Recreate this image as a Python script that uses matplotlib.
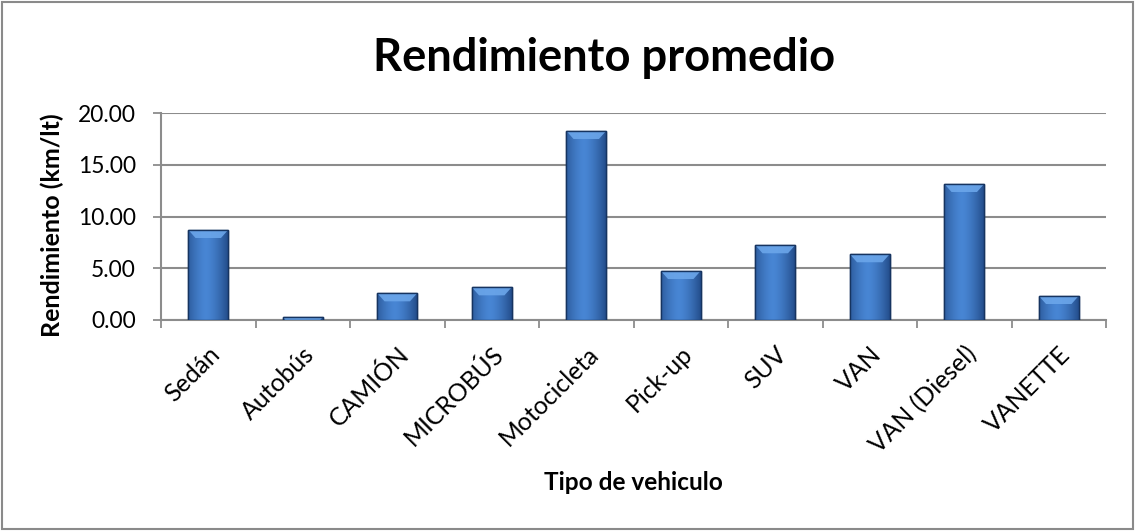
import matplotlib
matplotlib.use("Agg")
import matplotlib.pyplot as plt
import numpy as np
from matplotlib.patches import Rectangle, Polygon
from matplotlib.ticker import FixedLocator, FuncFormatter

categories = ["Sedán", "Autobús", "CAMIÓN", "MICROBÚS", "Motocicleta",
              "Pick-up", "SUV", "VAN", "VAN (Diesel)", "VANETTE"]
values = [8.71, 0.26, 2.58, 3.16, 18.29, 4.74, 7.23, 6.36, 13.16, 2.32]
yticks = [0, 5, 10, 15, 20]

title = "Rendimiento promedio"
xlabel = "Tipo de vehiculo"
ylabel = "Rendimiento (km/lt)"

plt.rcParams['font.family'] = ['Lato', 'DejaVu Sans']

W, H = 1136, 531
fig = plt.figure(figsize=(W / 100, H / 100), dpi=100)
ax = fig.add_axes([161 / W, 1 - 320 / H, (1106 - 161) / W, (320 - 113.3) / H])

x = np.arange(len(categories))
bars = ax.bar(x, values, width=0.42, color="#3B6EB5", edgecolor="#1A3A66",
              linewidth=1.0, zorder=3)

# gradient shading across each bar
grad = np.linspace(0, 1, 64)
img = np.zeros((1, 64, 3))
light = np.array([0x48, 0x86, 0xD4]) / 255
dark = np.array([0x24, 0x4E, 0x8C]) / 255
for i, t in enumerate(grad):
    d = (abs(t - 0.45) / 0.55) ** 1.5
    img[0, i] = light * (1 - d) + dark * d

ax.set_xlim(-0.5, len(categories) - 0.5)
ax.set_ylim(0, 20)
px_per_unit = (320 - 113.3) / 20.0
bev = 8 / px_per_unit
for b in bars:
    x0, w, h = b.get_x(), b.get_width(), b.get_height()
    im = ax.imshow(img, extent=(x0, x0 + w, 0, h), aspect="auto", zorder=3.5,
                   interpolation="bilinear")
    im.set_clip_path(b)
    bh = min(bev, h)
    inset = w * 0.18 * (bh / bev)
    top = Polygon([(x0, h), (x0 + w, h), (x0 + w - inset, h - bh), (x0 + inset, h - bh)],
                  closed=True, facecolor="#6BA6EA", edgecolor="none", zorder=3.6, alpha=0.9)
    ax.add_patch(top)
    ax.add_patch(Rectangle((x0, 0), w, h, fill=False, edgecolor="#163460",
                           linewidth=1.0, zorder=3.8))
ax.set_aspect("auto")

ax.yaxis.set_major_locator(FixedLocator(yticks))
ax.yaxis.set_major_formatter(FuncFormatter(lambda v, p: f"{v:.2f}"))
ax.grid(axis="y", color="#8C8C8C", linewidth=1.5, zorder=0)
ax.set_axisbelow(True)

ax.set_xticks(x)
ax.set_xticklabels(categories, rotation=45, ha="right", rotation_mode="anchor",
                   fontsize=17.8)
ax.tick_params(axis="x", length=0, pad=16)
ax.set_xticks(np.arange(-0.5, len(categories)), minor=True)
ax.tick_params(axis="x", which="minor", length=6, width=1.3, color="#8C8C8C")
ax.tick_params(axis="y", labelsize=16.4, length=6, width=1.3, color="#8C8C8C", pad=12)

for s in ["top", "right"]:
    ax.spines[s].set_visible(False)
for s in ["left", "bottom"]:
    ax.spines[s].set_color("#8C8C8C")
    ax.spines[s].set_linewidth(1.5)

fig.text(604 / W, 1 - 58 / H, title, ha="center", va="center", fontsize=32.6,
         fontweight="bold")
fig.text(633 / W, 1 - 482 / H, xlabel, ha="center", va="center", fontsize=17.6,
         fontweight="bold")
fig.text(52 / W, 1 - 225 / H, ylabel, ha="center", va="center", fontsize=18,
         fontweight="bold", rotation=90)

fig.add_artist(Rectangle((2 / W, 2 / H), (W - 5) / W, (H - 4) / H,
                         transform=fig.transFigure, fill=False,
                         edgecolor="#8A8A8A", linewidth=1.5))

fig.savefig("out.png", dpi=100)
